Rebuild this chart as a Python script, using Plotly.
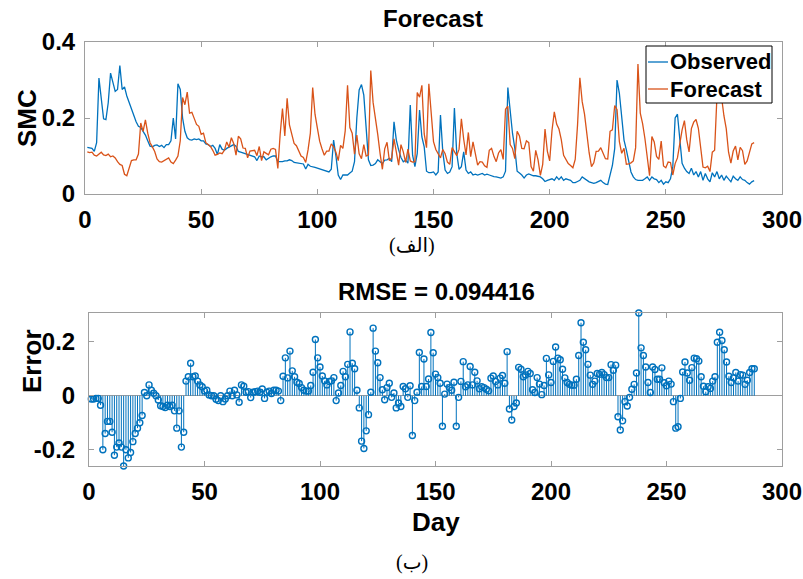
import plotly.graph_objects as go

# Daily soil moisture content (SMC), days 1..288
days = list(range(1, 289))

observed = [
    0.123, 0.121, 0.120, 0.112, 0.135, 0.305, 0.250, 0.198, 0.196, 0.240,
    0.318, 0.290, 0.270, 0.275, 0.338, 0.275, 0.282, 0.258, 0.240, 0.228,
    0.210, 0.190, 0.178, 0.175, 0.165, 0.155, 0.140, 0.126, 0.124, 0.128,
    0.129, 0.125, 0.128, 0.122, 0.130, 0.130, 0.140, 0.200, 0.145, 0.290,
    0.275, 0.200, 0.165, 0.148, 0.143, 0.142, 0.145, 0.143, 0.145, 0.140,
    0.140, 0.132, 0.130, 0.125, 0.128, 0.120, 0.104, 0.130, 0.118, 0.115,
    0.120, 0.123, 0.128, 0.130, 0.126, 0.112, 0.110, 0.108, 0.105, 0.102,
    0.100, 0.100, 0.098, 0.088, 0.100, 0.098, 0.098, 0.090, 0.095, 0.098,
    0.100, 0.100, 0.085, 0.085, 0.085, 0.087, 0.087, 0.090, 0.088, 0.083,
    0.082, 0.082, 0.080, 0.079, 0.066, 0.078, 0.073, 0.072, 0.070, 0.068,
    0.066, 0.064, 0.062, 0.060, 0.058, 0.065, 0.142, 0.100, 0.050, 0.038,
    0.050, 0.050, 0.050, 0.055, 0.060, 0.085, 0.200, 0.274, 0.288, 0.260,
    0.170, 0.090, 0.075, 0.076, 0.080, 0.090, 0.085, 0.080, 0.089, 0.090,
    0.094, 0.085, 0.190, 0.142, 0.116, 0.096, 0.085, 0.089, 0.081, 0.234,
    0.102, 0.072, 0.107, 0.221, 0.150, 0.124, 0.060, 0.056, 0.056, 0.058,
    0.050, 0.058, 0.208, 0.111, 0.063, 0.054, 0.058, 0.072, 0.226, 0.107,
    0.065, 0.072, 0.111, 0.063, 0.054, 0.058, 0.050, 0.052, 0.050, 0.052,
    0.054, 0.050, 0.052, 0.050, 0.047, 0.046, 0.045, 0.043, 0.042, 0.045,
    0.060, 0.280, 0.220, 0.160, 0.120, 0.060, 0.055, 0.050, 0.042, 0.050,
    0.053, 0.050, 0.048, 0.048, 0.047, 0.045, 0.040, 0.033, 0.036, 0.038,
    0.040, 0.036, 0.045, 0.038, 0.045, 0.036, 0.040, 0.038, 0.036, 0.030,
    0.030, 0.033, 0.036, 0.045, 0.040, 0.036, 0.032, 0.030, 0.028, 0.030,
    0.034, 0.036, 0.030, 0.026, 0.025, 0.050, 0.075, 0.120, 0.300, 0.265,
    0.200, 0.142, 0.116, 0.085, 0.058, 0.045, 0.038, 0.036, 0.036, 0.036,
    0.040, 0.045, 0.036, 0.045, 0.040, 0.038, 0.030, 0.036, 0.026, 0.032,
    0.030, 0.040, 0.072, 0.200, 0.210, 0.142, 0.081, 0.068, 0.059, 0.054,
    0.068, 0.050, 0.059, 0.045, 0.059, 0.036, 0.054, 0.040, 0.032, 0.056,
    0.045, 0.059, 0.040, 0.050, 0.036, 0.047, 0.038, 0.032, 0.047, 0.040,
    0.036, 0.045, 0.038, 0.036, 0.030, 0.026, 0.032, 0.035,
]

forecast = [
    0.111, 0.109, 0.110, 0.102, 0.100, 0.105, 0.110, 0.103, 0.101, 0.105,
    0.098, 0.100, 0.095, 0.085, 0.078, 0.075, 0.052, 0.048, 0.070, 0.088,
    0.090, 0.090, 0.105, 0.187, 0.165, 0.195, 0.160, 0.135, 0.124, 0.112,
    0.092, 0.085, 0.084, 0.087, 0.090, 0.095, 0.084, 0.080, 0.089, 0.100,
    0.140, 0.254, 0.235, 0.268, 0.213, 0.215, 0.199, 0.183, 0.178, 0.157,
    0.160, 0.135, 0.130, 0.125, 0.115, 0.102, 0.104, 0.108, 0.106, 0.115,
    0.137, 0.123, 0.148, 0.133, 0.102, 0.152, 0.145, 0.121, 0.120, 0.095,
    0.113, 0.115, 0.115, 0.101, 0.125, 0.088, 0.111, 0.107, 0.103, 0.118,
    0.120, 0.117, 0.067, 0.157, 0.225, 0.153, 0.252, 0.182, 0.158, 0.133,
    0.127, 0.112, 0.100, 0.096, 0.083, 0.116, 0.160, 0.280, 0.210, 0.174,
    0.139, 0.119, 0.102, 0.113, 0.113, 0.132, 0.124, 0.110, 0.088, 0.128,
    0.120, 0.166, 0.286, 0.175, 0.160, 0.105, 0.155, 0.106, 0.093, 0.130,
    0.100, 0.103, 0.325, 0.241, 0.202, 0.157, 0.107, 0.065, 0.119, 0.136,
    0.088, 0.095, 0.145, 0.115, 0.076, 0.130, 0.111, 0.083, 0.118, 0.087,
    0.084, 0.085, 0.267, 0.255, 0.286, 0.158, 0.122, 0.290, 0.215, 0.138,
    0.117, 0.104, 0.095, 0.117, 0.106, 0.084, 0.078, 0.122, 0.113, 0.101,
    0.118, 0.198, 0.144, 0.103, 0.162, 0.098, 0.137, 0.107, 0.076, 0.085,
    0.084, 0.074, 0.070, 0.115, 0.120, 0.099, 0.085, 0.108, 0.117, 0.091,
    0.223, 0.231, 0.130, 0.120, 0.093, 0.165, 0.153, 0.120, 0.119, 0.140,
    0.135, 0.072, 0.060, 0.115, 0.090, 0.049, 0.078, 0.171, 0.113, 0.087,
    0.167, 0.216, 0.184, 0.171, 0.143, 0.102, 0.089, 0.080, 0.075, 0.069,
    0.091, 0.182, 0.306, 0.243, 0.210, 0.152, 0.108, 0.072, 0.082, 0.112,
    0.113, 0.122, 0.108, 0.093, 0.092, 0.165, 0.169, 0.233, 0.222, 0.138,
    0.107, 0.120, 0.078, 0.079, 0.082, 0.087, 0.122, 0.342, 0.213, 0.185,
    0.146, 0.094, 0.048, 0.151, 0.137, 0.099, 0.091, 0.139, 0.074, 0.069,
    0.084, 0.083, 0.050, 0.080, 0.095, 0.132, 0.169, 0.193, 0.143, 0.111,
    0.172, 0.189, 0.196, 0.173, 0.129, 0.071, 0.069, 0.073, 0.059, 0.110,
    0.115, 0.257, 0.275, 0.254, 0.206, 0.172, 0.110, 0.081, 0.113, 0.126,
    0.090, 0.123, 0.114, 0.078, 0.087, 0.112, 0.132, 0.135,
]

rmse_text = "RMSE = 0.094416"

# Forecast error per day
error = [f - o for f, o in zip(forecast, observed)]

BLUE = "#0072BD"
ORANGE = "#D95319"
AXIS = "#9e9e9e"
FONT = "Liberation Sans, Arial, sans-serif"
W, H = 803, 579


def px(x):
    return x / W


def py(y):
    return 1 - y / H


fig = go.Figure()

# Top panel: observed vs forecast
fig.add_trace(go.Scatter(x=days, y=observed, mode="lines", name="Observed",
                         line=dict(color=BLUE, width=1.3), xaxis="x", yaxis="y",
                         showlegend=False))
fig.add_trace(go.Scatter(x=days, y=forecast, mode="lines", name="Forecast",
                         line=dict(color=ORANGE, width=1.3), xaxis="x", yaxis="y",
                         showlegend=False))

# Bottom panel: stem plot of the error
stem_x, stem_y = [], []
for d, e in zip(days, error):
    stem_x += [d, d, None]
    stem_y += [0, e, None]
fig.add_trace(go.Scatter(x=stem_x, y=stem_y, mode="lines",
                         line=dict(color=BLUE, width=1), xaxis="x2", yaxis="y2",
                         showlegend=False, hoverinfo="skip"))
fig.add_trace(go.Scatter(x=days, y=error, mode="markers",
                         marker=dict(symbol="circle-open", size=6, color=BLUE,
                                     line=dict(width=1.4, color=BLUE)),
                         xaxis="x2", yaxis="y2", showlegend=False, cliponaxis=False))

tick_font = dict(family=FONT, size=24, color="black", weight="bold")
axis_common = dict(showline=True, linecolor=AXIS, linewidth=1, mirror="ticks",
                   ticks="inside", ticklen=5, tickcolor=AXIS, tickwidth=1,
                   showgrid=False, tickfont=tick_font, automargin=False,
                   ticklabeloverflow="allow")

fig.update_layout(
    width=W, height=H,
    margin=dict(l=0, r=0, t=0, b=0),
    paper_bgcolor="white", plot_bgcolor="white",
    xaxis=dict(domain=[px(85), px(782)], range=[0, 300], tickvals=[0, 50, 100, 150, 200, 250, 300],
               zeroline=False, anchor="y", ticklabelstandoff=4, **axis_common),
    yaxis=dict(domain=[py(194), py(42)], range=[0, 0.4], tickvals=[0, 0.2, 0.4],
               ticktext=["0", "0.2", "0.4"], zeroline=False, anchor="x",
               ticklabelstandoff=4, **axis_common),
    xaxis2=dict(domain=[px(89), px(782)], range=[0, 300], tickvals=[0, 50, 100, 150, 200, 250, 300],
                zeroline=False, anchor="y2", ticklabelstandoff=4, **axis_common),
    yaxis2=dict(domain=[py(466), py(313)], range=[min(error), max(error)],
                tickvals=[-0.2, 0, 0.2], ticktext=["-0.2", "0", "0.2"],
                zeroline=True, zerolinecolor=AXIS, zerolinewidth=1, anchor="x2",
                ticklabelstandoff=8, **axis_common),
)

bold = dict(family=FONT, color="black", weight="bold")
arabic = dict(family="Liberation Serif, DejaVu Serif, DejaVu Sans, serif", size=20, color="black")
texts = [
    ("Forecast", 433, 19, 24, 0),
    ("SMC", 27, 118, 26, -90),
    (rmse_text, 437, 291, 24, 0),
    ("Error", 32, 361, 26, -90),
    ("Day", 436, 522, 26, 0),
]
for t, x, y, s, ang in texts:
    fig.add_annotation(text=t, x=px(x), y=py(y), xref="paper", yref="paper",
                       showarrow=False, textangle=ang, xanchor="center", yanchor="middle",
                       font=dict(size=s, **bold))
fig.add_annotation(text="(الف)", x=px(412), y=py(245), xref="paper", yref="paper",
                   showarrow=False, xanchor="center", yanchor="middle", font=arabic)
fig.add_annotation(text="(ب)", x=px(412), y=py(562), xref="paper", yref="paper",
                   showarrow=False, xanchor="center", yanchor="middle", font=arabic)

# Legend box with line samples
fig.add_shape(type="rect", xref="paper", yref="paper",
              x0=px(646), x1=px(772), y0=py(103), y1=py(46),
              line=dict(color="black", width=1), fillcolor="white", layer="above")
for name, color, yy in [("Observed", BLUE, 62), ("Forecast", ORANGE, 89)]:
    fig.add_shape(type="line", xref="paper", yref="paper",
                  x0=px(648), x1=px(668), y0=py(yy), y1=py(yy),
                  line=dict(color=color, width=1.3), layer="above")
    fig.add_annotation(text=name, x=px(668), y=py(yy), xref="paper", yref="paper",
                       showarrow=False, xanchor="left", yanchor="middle",
                       font=dict(size=22, **bold))

fig.write_html("out.html")
